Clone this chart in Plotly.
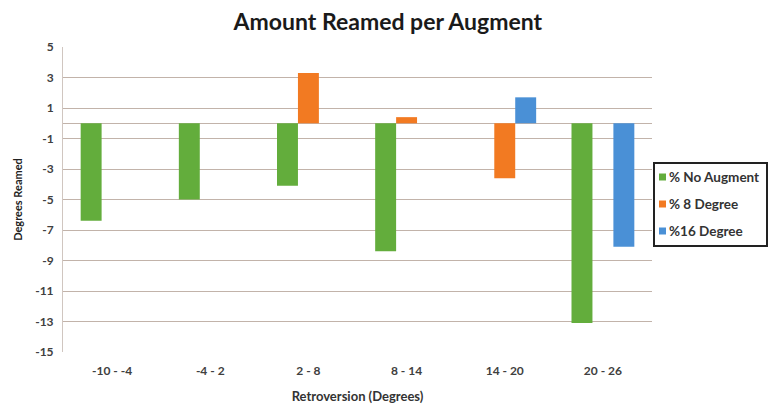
import plotly.graph_objects as go

categories = ["-10 - -4", "-4 - 2", "2 - 8", "8 - 14", "14 - 20", "20 - 26"]
no_augment = [-6.4, -5.0, -4.1, -8.4, 0.0, -13.1]
deg8 = [0.0, 0.0, 3.3, 0.4, -3.6, 0.0]
deg16 = [0.0, 0.0, 0.0, 0.0, 1.7, -8.1]
y_ticks = [5, 3, 1, -1, -3, -5, -7, -9, -11, -13, -15]
y_tick_text = [str(v) for v in y_ticks]

series = [
    ("% No Augment", no_augment, "#63ad3c"),
    ("% 8 Degree", deg8, "#f27a22"),
    ("%16 Degree", deg16, "#4a90d6"),
]

fig = go.Figure()
for name, vals, color in series:
    fig.add_trace(go.Bar(
        x=categories, y=vals, name=name, marker_color=color,
        marker_line_width=0, showlegend=False,
    ))

# Plot area in pixels, used to place the hand-built legend
W, H = 768, 406
PL, PR, PT, PB = 63, 652, 47, 352


def px_x(x):
    return (x - PL) / (PR - PL)


def px_y(y):
    return (PB - y) / (PB - PT)


box_l, box_r, box_t, box_b = 654, 767, 163, 246
shapes = [dict(type="rect", xref="paper", yref="paper",
               x0=px_x(box_l), x1=px_x(box_r), y0=px_y(box_b), y1=px_y(box_t),
               line=dict(color="#222222", width=2), fillcolor="white", layer="above")]
annotations = []
for i, (name, _, color) in enumerate(series):
    cy = 177 + i * 27
    shapes.append(dict(type="rect", xref="paper", yref="paper",
                       x0=px_x(659), x1=px_x(666), y0=px_y(cy + 3.5), y1=px_y(cy - 3.5),
                       line=dict(width=0), fillcolor=color, layer="above"))
    annotations.append(dict(xref="paper", yref="paper",
                            x=px_x(667), y=px_y(cy),
                            xanchor="left", yanchor="middle", showarrow=False,
                            text=f"<b>{name}</b>",
                            font=dict(size=13.5, color="#333333", family="Lato, sans-serif")))

grid_color = "#c2b3aa"
fig.update_layout(
    width=W, height=H,
    margin=dict(l=PL, r=W - PR, t=PT, b=H - PB),
    paper_bgcolor="white", plot_bgcolor="white",
    barmode="group", bargap=0.36, bargroupgap=0,
    font=dict(family="Lato, Open Sans, sans-serif", color="#404040"),
    title=dict(text="<b>Amount Reamed per Augment</b>", x=0.505, xanchor="center",
               y=0.945, yanchor="middle",
               font=dict(size=23, color="#1a1a1a", family="Lato, sans-serif")),
    showlegend=False,
    shapes=shapes,
    annotations=annotations,
)
fig.update_xaxes(
    automargin=False,
    showgrid=False, showline=False, ticks="", ticklabelstandoff=10,
    tickfont=dict(size=12, color="#404040", family="Lato, sans-serif", weight="bold"),
    title=dict(text="<b>Retroversion (Degrees)</b>", standoff=14,
               font=dict(size=13, color="#333333", family="Lato, sans-serif")),
)
fig.update_yaxes(
    automargin=False,
    range=[-15, 5], tickvals=y_ticks, ticktext=y_tick_text,
    showgrid=True, gridcolor=grid_color,
    gridwidth=1.3, zeroline=True, zerolinecolor=grid_color, zerolinewidth=1.3,
    showline=True, linecolor="#d0c6c0", linewidth=1, ticks="", ticklabelstandoff=6,
    tickfont=dict(size=12, color="#404040", family="Lato, sans-serif", weight="bold"),
    title=dict(text="<b>Degrees Reamed</b>", standoff=10,
               font=dict(size=11, color="#222222", family="Lato, sans-serif")),
)

fig.write_html("out.html")
